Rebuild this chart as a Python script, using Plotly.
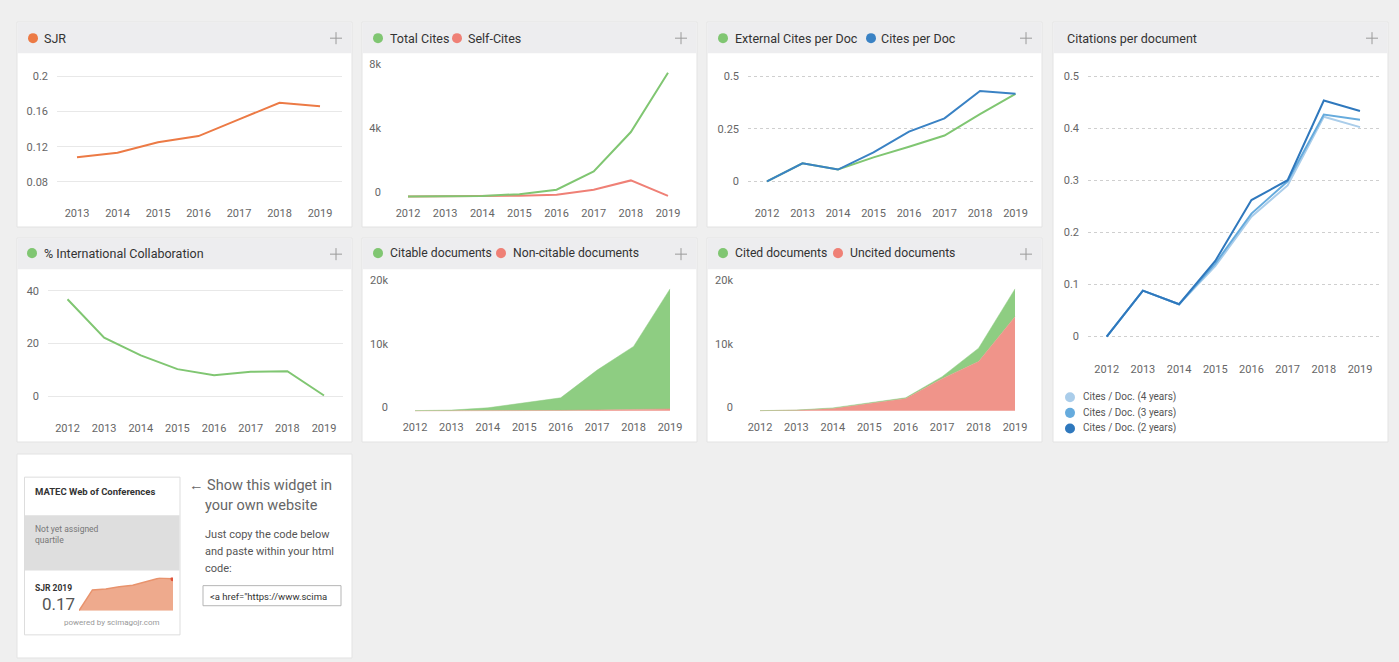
import plotly.graph_objects as go

W, H = 1399, 662
FIG_H = 665  # rendered height; positions below are laid out on a 1399x662 grid
FONT = "Roboto, 'Open Sans', Arial, sans-serif"

# ---------------- data ----------------
years = [2012, 2013, 2014, 2015, 2016, 2017, 2018, 2019]
year_labels = [str(y) for y in years]
sjr_years = [2013, 2014, 2015, 2016, 2017, 2018, 2019]
sjr = [0.108, 0.113, 0.125, 0.132, 0.151, 0.170, 0.166]

total_cites = [0, 10, 30, 140, 420, 1560, 4030, 7740]
self_cites = [0, 0, 10, 40, 100, 420, 1000, 30]

ext_cites_per_doc = [0, 0.086, 0.056, 0.114, 0.165, 0.218, 0.320, 0.417]
cites_per_doc = [0, 0.086, 0.056, 0.138, 0.237, 0.300, 0.430, 0.417]

cpd_4y = [0, 0.088, 0.062, 0.135, 0.230, 0.290, 0.422, 0.402]
cpd_3y = [0, 0.088, 0.062, 0.140, 0.236, 0.298, 0.426, 0.416]
cpd_2y = [0, 0.088, 0.062, 0.145, 0.262, 0.300, 0.453, 0.433]
cpd_legend = ["Cites / Doc. (4 years)", "Cites / Doc. (3 years)", "Cites / Doc. (2 years)"]

intl_collab = [36.8, 22.2, 15.5, 10.3, 8.0, 9.3, 9.5, 0.3]

non_citable = [0, 0, 10, 30, 60, 150, 200, 300]
citable = [40, 120, 470, 1270, 2000, 6300, 10000, 19000]

uncited = [30, 100, 370, 1160, 1960, 5100, 7800, 14900]
cited = [10, 20, 100, 110, 110, 310, 2120, 4400]

widget_sjr = [0, 0.108, 0.113, 0.125, 0.132, 0.151, 0.170, 0.166]

# ---------------- colours ----------------
ORANGE = "#ec7a45"
GREEN = "#80c672"
RED = "#ef8076"
BLUE = "#3a82c4"
GREEN_FILL = "#8ecd82"
RED_FILL = "#f0948a"
BLUE4 = "#aacdea"
BLUE3 = "#66abdd"
BLUE2 = "#2f78bd"
BG = "#efefef"


def fx(px):
    return px / W


def fy(py):
    return 1 - py / H


def lin(p1, v1, p2, v2, p):
    return v1 + (p - p1) * (v2 - v1) / (p2 - p1)


fig = go.Figure()
layout = dict(
    width=W, height=FIG_H, margin=dict(l=0, r=0, t=0, b=0),
    paper_bgcolor=BG, plot_bgcolor="rgba(0,0,0,0)",
    showlegend=False, font=dict(family=FONT, color="#666"),
    shapes=[], annotations=[],
)


def add_axes(idx, xdom, ydom, xmap, ymap, ytickvals=None, yticktext=None,
             grid=False, griddash="solid", gridcolor="#e8e8e8", shift=0,
             hidden=False):
    xa = "xaxis" if idx == 1 else f"xaxis{idx}"
    ya = "yaxis" if idx == 1 else f"yaxis{idx}"
    xr = [lin(*xmap, xdom[0]), lin(*xmap, xdom[1])]
    yr = [lin(*ymap, ydom[1]), lin(*ymap, ydom[0])]
    common = dict(showline=False, zeroline=False, ticks="", fixedrange=True)
    if hidden:
        layout[xa] = dict(domain=[fx(xdom[0]), fx(xdom[1])], range=xr, visible=False,
                          anchor=f"y{idx}", **common)
        layout[ya] = dict(domain=[fy(ydom[1]), fy(ydom[0])], range=yr, visible=False,
                          anchor=f"x{idx}", **common)
        return
    layout[xa] = dict(domain=[fx(xdom[0]), fx(xdom[1])], range=xr, anchor=f"y{idx}",
                      tickvals=years, ticktext=year_labels, showgrid=False,
                      tickfont=dict(size=11, color="#666", family=FONT),
                      ticklabelstandoff=4, **common)
    layout[ya] = dict(domain=[fy(ydom[1]), fy(ydom[0])], range=yr, anchor=f"x{idx}",
                      tickvals=ytickvals, ticktext=yticktext, showgrid=grid,
                      gridcolor=gridcolor, griddash=griddash, gridwidth=1,
                      tickfont=dict(size=11, color="#666", family=FONT),
                      ticklabelstandoff=8, ticklabelshift=shift, **common)


def refs(idx):
    return ("x", "y") if idx == 1 else (f"x{idx}", f"y{idx}")


def line(idx, x, y, color, width=2):
    xr, yr = refs(idx)
    fig.add_trace(go.Scatter(x=x, y=y, mode="lines", line=dict(color=color, width=width),
                             xaxis=xr, yaxis=yr, hoverinfo="skip"))


def area(idx, x, y, color, group):
    xr, yr = refs(idx)
    fig.add_trace(go.Scatter(x=x, y=y, mode="lines", stackgroup=group,
                             line=dict(color=color, width=0.5), fillcolor=color,
                             xaxis=xr, yaxis=yr, hoverinfo="skip"))


# ---------------- cards ----------------
cards = [
    (17, 352, 22, 226, True), (362, 697, 22, 226, True), (707, 1042, 22, 226, True),
    (1053, 1388, 22, 440, True), (17, 352, 237, 440, True), (362, 697, 237, 440, True),
    (707, 1042, 237, 440, True), (17, 352, 452, 655, False),
]
for x0, x1, y0, y1, head in cards:
    layout["shapes"].append(dict(type="rect", xref="paper", yref="paper", layer="below",
                                 x0=fx(x0), x1=fx(x1), y0=fy(y1), y1=fy(y0),
                                 fillcolor="white", line=dict(color="#e3e3e3", width=1)))
    if head:
        layout["shapes"].append(dict(type="rect", xref="paper", yref="paper", layer="below",
                                     x0=fx(x0 + 0.5), x1=fx(x1 - 0.5), y0=fy(y0 + 31), y1=fy(y0 + 0.5),
                                     fillcolor="#ededef", line=dict(width=0)))
        cx, cy = x1 - 16, y0 + 16
        for (a, b, c, d) in [(cx - 6, cy, cx + 6, cy), (cx, cy - 6, cx, cy + 6)]:
            layout["shapes"].append(dict(type="line", xref="paper", yref="paper",
                                         x0=fx(a), x1=fx(c), y0=fy(b), y1=fy(d),
                                         line=dict(color="#9a9a9a", width=1)))


def dot(cx, cy, color, r=5):
    layout["shapes"].append(dict(type="circle", xref="paper", yref="paper",
                                 x0=fx(cx - r), x1=fx(cx + r), y0=fy(cy + r), y1=fy(cy - r),
                                 fillcolor=color, line=dict(width=0)))


def text(x, y, s, size=12.5, color="#333", anchor="left", bold=False, vanchor="middle"):
    if bold:
        s = f"<b>{s}</b>"
    layout["annotations"].append(dict(xref="paper", yref="paper", x=fx(x), y=fy(y), text=s,
                                      showarrow=False, xanchor=anchor, yanchor=vanchor,
                                      font=dict(size=size, color=color, family=FONT)))


# titles
dot(33, 38, ORANGE); text(42, 38, "SJR")
dot(378, 38, GREEN); text(388, 38, "Total Cites"); dot(457, 38, RED); text(466, 38, "Self-Cites")
dot(723, 38, GREEN); text(733, 38, "External Cites per Doc"); dot(871, 38, BLUE); text(879, 38, "Cites per Doc")
text(1065, 38, "Citations per document")
dot(32, 252, GREEN); text(42, 252, "% International Collaboration")
dot(378, 252, GREEN); text(388, 252, "Citable documents", size=12.2); dot(501, 252, RED); text(511, 252, "Non-citable documents", size=12.2)
dot(723, 252, GREEN); text(733, 252, "Cited documents", size=12.2); dot(838, 252, RED); text(848, 252, "Uncited documents", size=12.2)

# ---------------- panel 1: SJR ----------------
add_axes(1, (57, 342), (58, 200), (77, 2013, 320, 2019), (76, 0.2, 181, 0.08),
         [0.08, 0.12, 0.16, 0.2], ["0.08", "0.12", "0.16", "0.2"], grid=True)
line(1, sjr_years, sjr, ORANGE)

# ---------------- panel 2: cites ----------------
add_axes(2, (390, 690), (58, 200), (408, 2012, 668, 2019), (195.5, 0, 68.3, 8000),
         [0, 4000, 8000], ["0", "4k", "8k"], shift=-4)
line(2, years, self_cites, RED)
line(2, years, total_cites, GREEN)

# ---------------- panel 3: cites per doc ----------------
add_axes(3, (748, 1033), (58, 200), (767, 2012, 1015.5, 2019), (180.5, 0, 76, 0.5),
         [0, 0.25, 0.5], ["0", "0.25", "0.5"], grid=True, griddash="dot", gridcolor="#cfcfcf")
line(3, years, ext_cites_per_doc, GREEN)
line(3, years, cites_per_doc, BLUE)

# ---------------- panel 4: citations per document ----------------
add_axes(4, (1088, 1382), (58, 355), (1106.7, 2012, 1360, 2019), (335, 0, 75.7, 0.5),
         [0, 0.1, 0.2, 0.3, 0.4, 0.5], ["0", "0.1", "0.2", "0.3", "0.4", "0.5"],
         grid=True, griddash="dot", gridcolor="#cfcfcf")
line(4, years, cpd_4y, BLUE4)
line(4, years, cpd_3y, BLUE3)
line(4, years, cpd_2y, BLUE2)
for i, (lab, col) in enumerate(zip(cpd_legend, [BLUE4, BLUE3, BLUE2])):
    yy = 395.5 + i * 15.5
    dot(1070, yy, col, r=5)
    text(1081, yy, lab, size=10, color="#555")

# ---------------- panel 5: international collaboration ----------------
add_axes(5, (48, 343), (273, 414), (67.5, 2012, 324, 2019), (394.5, 0, 289.5, 40),
         [0, 20, 40], ["0", "20", "40"], grid=True)
line(5, years, intl_collab, GREEN)

# ---------------- panel 6: citable documents ----------------
add_axes(6, (397, 690), (273, 413), (415, 2012, 670, 2019), (409, 0, 283.2, 20000),
         [0, 10000, 20000], ["0", "10k", "20k"], shift=-4)
area(6, years, non_citable, RED_FILL, "a")
area(6, years, citable, GREEN_FILL, "a")

# ---------------- panel 7: cited documents ----------------
add_axes(7, (742, 1035), (273, 413), (760, 2012, 1015, 2019), (409, 0, 283.2, 20000),
         [0, 10000, 20000], ["0", "10k", "20k"], shift=-4)
area(7, years, uncited, RED_FILL, "b")
area(7, years, cited, GREEN_FILL, "b")

# ---------------- panel 8: widget ----------------
S = layout["shapes"]
S.append(dict(type="rect", xref="paper", yref="paper", layer="below",
              x0=fx(24.5), x1=fx(180), y0=fy(632), y1=fy(475),
              fillcolor="white", line=dict(color="#dddddd", width=1)))
S.append(dict(type="rect", xref="paper", yref="paper", layer="below",
              x0=fx(25), x1=fx(179.5), y0=fy(568), y1=fy(513),
              fillcolor="#dedede", line=dict(width=0)))
text(33, 489, "MATEC Web of Conferences", size=9.5, color="#333", bold=True)
text(33, 527, "Not yet assigned", size=8.5, color="#777")
text(33, 538, "quartile", size=8.5, color="#777")
text(33, 585, "SJR 2019", size=8.5, color="#333", bold=True)
text(40, 601, "0.17", size=17, color="#555")
text(162, 620, "powered by scimagojr.com", size=8, color="#999", anchor="right")

add_axes(9, (79, 173), (575, 608), (79, 2012, 173, 2019), (608, 0, 575, 0.172), hidden=True)
fig.add_trace(go.Scatter(x=years, y=widget_sjr, mode="lines", fill="tozeroy",
                         fillcolor="#eeaa8d", line=dict(color="#e8936d", width=1.5),
                         xaxis="x9", yaxis="y9", hoverinfo="skip"))
fig.add_trace(go.Scatter(x=years[-1:], y=widget_sjr[-1:], mode="markers",
                         marker=dict(color="#e0533a", size=5),
                         xaxis="x9", yaxis="y9", hoverinfo="skip"))

text(187, 483, "\u2190 Show this widget in", size=14.5, color="#666")
text(203, 503, "your own website", size=14.5, color="#666")
text(203, 532, "Just copy the code below", size=11, color="#555")
text(203, 549, "and paste within your html", size=11, color="#555")
text(203, 566, "code:", size=11, color="#555")
S.append(dict(type="rect", xref="paper", yref="paper", layer="below",
              x0=fx(203), x1=fx(341), y0=fy(603), y1=fy(583),
              fillcolor="white", line=dict(color="#b5b5b5", width=1)))
text(208, 593.5, "&lt;a href=\"https://www.scima", size=9.5, color="#333")

fig.update_layout(**layout)
post = (
    "document.documentElement.style.margin='0';"
    "document.documentElement.style.overflow='hidden';"
    "document.documentElement.style.background='" + BG + "';"
    "document.body.style.margin='0';"
    "document.body.style.overflow='hidden';"
    "document.body.style.background='" + BG + "';"
    "var gd=document.getElementById('{plot_id}');"
    "gd.style.position='fixed';gd.style.top='0px';gd.style.left='0px';"
)
fig.write_html("out.html", config={"displayModeBar": False}, post_script=post)
